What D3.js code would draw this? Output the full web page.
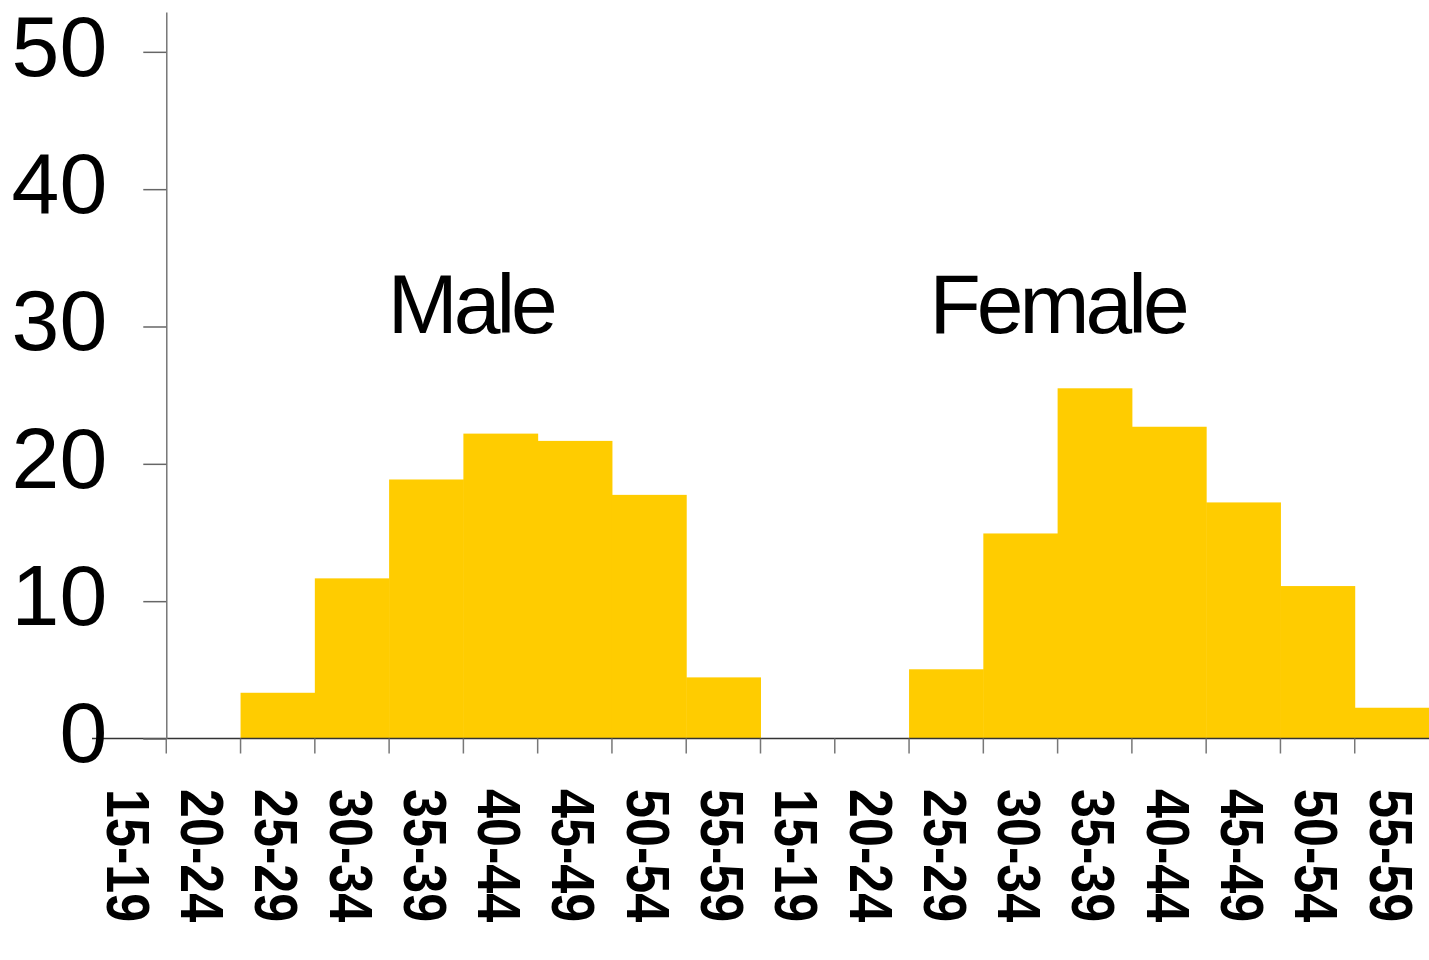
<!DOCTYPE html>
<html>
<head>
<meta charset="utf-8">
<script src="https://cdn.jsdelivr.net/npm/d3@7"></script>
<style>
  body { margin: 0; background: #fff; }
  svg { display: block; }
  .axis text { font-family: "Liberation Sans", Arial, sans-serif; fill: #000; }
</style>
</head>
<body>
<div id="chart-1"></div>
<script>
// values (percent per age group)
var ageGroups = ["15-19", "20-24", "25-29", "30-34", "35-39", "40-44", "45-49", "50-54", "55-59"];
var sexes = ["Male", "Female"];
var maleValues = [0, 0, 3.33, 11.66, 18.86, 22.2, 21.67, 17.74, 4.45];
var femaleValues = [0, 0, 5.04, 14.93, 25.5, 22.7, 17.19, 11.1, 2.24];
var yTicks = [0, 10, 20, 30, 40, 50];
var yTop = 52.9;

var width = 1429, height = 960;
var plotLeft = 92, plotRight = 1429, plotTop = 12, plotBottom = 738.5;
var barColor = "#ffcc00";

var rows = [];
[maleValues, femaleValues].forEach(function(vals, s) {
    ageGroups.forEach(function(a, i) {
        rows.push({key: sexes[s] + "|" + a, sex: sexes[s], age: a, value: vals[i]});
    });
});

var x = d3.scaleBand()
    .domain(rows.map(function(d) { return d.key; }))
    .range([plotLeft, plotRight])
    .padding(0);

var y = d3.scaleLinear()
    .domain([0, yTop])
    .range([plotBottom, plotTop]);

var svg = d3.select("#chart-1")
    .append("svg")
    .attr("width", width)
    .attr("height", height);

// bars
svg.selectAll(".bar")
    .data(rows)
    .enter().append("rect")
    .attr("class", "bar")
    .attr("x", function(d) { return x(d.key); })
    .attr("width", x.bandwidth() + 0.5)
    .attr("y", function(d) { return y(d.value); })
    .attr("height", function(d) { return y(0) - y(d.value); })
    .style("fill", barColor);

// x axis line + ticks at band boundaries
svg.append("line")
    .attr("x1", plotLeft).attr("x2", plotRight)
    .attr("y1", y(0)).attr("y2", y(0))
    .style("stroke", "#333")
    .style("stroke-width", 1.5);

svg.selectAll(".xtick")
    .data(rows.slice(1))
    .enter().append("line")
    .attr("class", "xtick")
    .attr("x1", function(d) { return x(d.key); })
    .attr("x2", function(d) { return x(d.key); })
    .attr("y1", y(0))
    .attr("y2", y(0) + 15)
    .style("stroke", "#777")
    .style("stroke-width", 1.5);

// x labels, rotated to read downwards
var labelSize = 62;
svg.selectAll(".xlabel")
    .data(rows)
    .enter().append("text")
    .attr("class", "xlabel")
    .attr("transform", function(d) {
        return "translate(" + (x(d.key) + x.bandwidth() / 2) + ",789) rotate(90) scale(0.84,1)";
    })
    .attr("dy", "0.36em")
    .style("font-family", "'Liberation Sans', Arial, sans-serif")
    .style("font-weight", "bold")
    .style("font-size", labelSize + "px")
    .text(function(d) { return d.age; });

// y axis
var yAxis = d3.axisLeft(y)
    .tickValues(yTicks)
    .tickSize(23)
    .tickSizeOuter(0)
    .tickPadding(36);

var gy = svg.append("g")
    .attr("class", "y axis")
    .attr("transform", "translate(" + x(rows[1].key) + ",0)")
    .call(yAxis);

gy.select(".domain").style("stroke", "#777").style("stroke-width", 1.5);
gy.selectAll(".tick line").style("stroke", "#666").style("stroke-width", 1.5);
gy.selectAll(".tick text")
    .attr("dy", "23.3px")
    .style("font-family", "'Liberation Sans', Arial, sans-serif")
    .style("font-size", "86px")
    .style("fill", "#000");

// group names
var groupLabels = [
    {text: sexes[0], key: rows[5].key, shift: 0.1},
    {text: sexes[1], key: rows[13].key, shift: 0}
];
svg.selectAll(".group-label")
    .data(groupLabels)
    .enter().append("text")
    .attr("class", "group-label")
    .attr("x", function(d) { return x(d.key) + d.shift * x.bandwidth(); })
    .attr("y", 333)
    .attr("text-anchor", "middle")
    .style("font-family", "'Liberation Sans', Arial, sans-serif")
    .style("font-size", "84px")
    .style("letter-spacing", "-4px")
    .text(function(d) { return d.text; });
</script>
</body>
</html>
